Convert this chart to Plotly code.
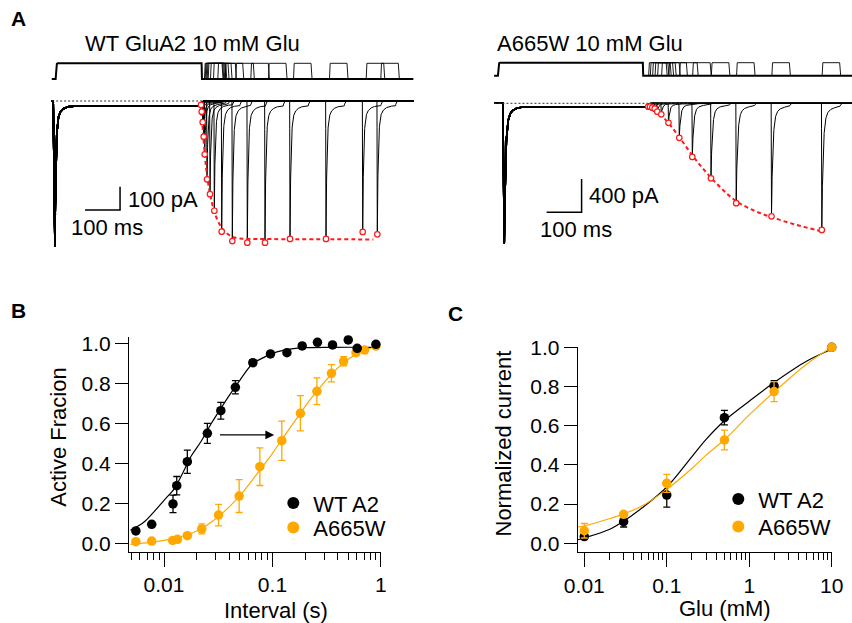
import numpy as np
import plotly.graph_objects as go

W, H = 852, 623
FONT = "Liberation Sans, Arial, Helvetica, sans-serif"
ORANGE = "#FFA800"
RED = "#FF1A1A"

# ---------------- Panel B : recovery from desensitization ----------------
b_wt_x = [0.0055, 0.0077, 0.0121, 0.0131, 0.0164, 0.0251, 0.0334, 0.0455, 0.0659,
          0.0959, 0.136, 0.188, 0.26, 0.358, 0.50, 0.605, 0.90]
b_wt_y = [0.062, 0.095, 0.197, 0.288, 0.408, 0.550, 0.663, 0.780, 0.903,
          0.947, 0.953, 0.987, 1.005, 0.992, 1.017, 0.975, 0.995]
b_wt_err = [0.01, 0.01, 0.044, 0.046, 0.058, 0.050, 0.042, 0.033, 0.015,
            0.01, 0.01, 0.01, 0.01, 0.01, 0.01, 0.01, 0.01]
b_mut_x = [0.0055, 0.0077, 0.0120, 0.0133, 0.0164, 0.0223, 0.0318, 0.0493, 0.0765,
           0.122, 0.181, 0.257, 0.350, 0.453, 0.589, 0.707, 0.90]
b_mut_y = [0.008, 0.011, 0.014, 0.020, 0.038, 0.072, 0.141, 0.236, 0.383,
           0.513, 0.650, 0.760, 0.850, 0.910, 0.953, 0.966, 0.986]
b_mut_err = [0.01, 0.01, 0.01, 0.01, 0.012, 0.025, 0.054, 0.082, 0.094,
             0.098, 0.088, 0.067, 0.043, 0.023, 0.012, 0.01, 0.01]
# fitted curves
b_wt_fit_x = [0.0049, 0.0065, 0.008, 0.010, 0.0125, 0.015, 0.018, 0.022, 0.027, 0.033,
              0.040, 0.050, 0.065, 0.085, 0.11, 0.15, 0.2, 0.35, 0.9]
b_wt_fit_y = [0.065, 0.105, 0.155, 0.215, 0.275, 0.355, 0.44, 0.51, 0.595, 0.67,
              0.74, 0.815, 0.895, 0.932, 0.957, 0.972, 0.978, 0.98, 0.98]
b_mut_fit_x = [0.0049, 0.0075, 0.010, 0.0135, 0.018, 0.024, 0.032, 0.043, 0.056, 0.075,
               0.10, 0.13, 0.17, 0.22, 0.29, 0.38, 0.50, 0.65, 0.9]
b_mut_fit_y = [-0.005, 0.005, 0.015, 0.03, 0.05, 0.085, 0.135, 0.20, 0.27, 0.36,
               0.45, 0.54, 0.63, 0.715, 0.795, 0.865, 0.92, 0.958, 0.985]
b_xtick_vals = [0.01, 0.1, 1]
b_xtick_text = ["0.01", "0.1", "1"]
b_xminor = [0.005, 0.006, 0.007, 0.008, 0.009] + [k * 0.01 for k in range(2, 10)] + [k * 0.1 for k in range(2, 10)]
b_arrow_from = 0.0318
b_arrow_to = 0.1037
b_arrow_y = 0.542

# ---------------- Panel C : glutamate dose response ----------------
c_glu = [0.01, 0.03, 0.1, 0.5, 2, 10]
c_wt_y = [0.034, 0.110, 0.246, 0.641, 0.803, 1.0]
c_wt_err = [0.012, 0.027, 0.062, 0.037, 0.027, 0.0]
c_mut_y = [0.064, 0.148, 0.306, 0.527, 0.774, 1.0]
c_mut_err = [0.037, 0.01, 0.046, 0.050, 0.051, 0.0]
c_wt_fit_x = [0.0083, 0.01, 0.02, 0.03, 0.05, 0.1, 0.2, 0.3, 0.5, 1, 2, 5, 10]
c_wt_fit_y = [0.018, 0.027, 0.07, 0.113, 0.18, 0.287, 0.44, 0.53, 0.625, 0.725, 0.82, 0.93, 0.99]
c_mut_fit_x = [0.0083, 0.01, 0.02, 0.03, 0.05, 0.1, 0.2, 0.3, 0.5, 1, 2, 5, 10]
c_mut_fit_y = [0.083, 0.088, 0.125, 0.15, 0.19, 0.275, 0.38, 0.45, 0.528, 0.655, 0.772, 0.915, 1.0]
c_xtick_vals = [0.01, 0.1, 1, 10]
c_xtick_text = ["0.01", "0.1", "1", "10"]
c_xminor = [k * 0.01 for k in range(2, 10)] + [k * 0.1 for k in range(2, 10)] + [float(k) for k in range(2, 10)]

y_ticks = [0, 0.2, 0.4, 0.6, 0.8, 1.0]
y_ticktext = ["0.0", "0.2", "0.4", "0.6", "0.8", "1.0"]

# ---------------- Panel A : example traces (ms, pA) ----------------
# WT GluA2
wt_t_end = 1021.0
wt_cond_peak_ms = -3.0
wt_cond_amp = -625.0
wt_cond_end_ms = 414.0
wt_stim_end_ms = 416.0
wt_ss = -21.0
wt_test_peak_ms = [414.3, 416.3, 419.1, 422.0, 424.9, 431.4, 440.0, 452.3, 473.4,
                   503.7, 546.6, 597.1, 668.6, 771.4, 876.3, 918.0]
wt_test_amp = [-17, -46, -91, -153, -229, -336, -400, -471, -561,
               -601, -608, -608, -592, -592, -562, -572]
wt_fit_t = [413.4, 418.0, 420.9, 425.7, 430.6, 437.1, 444.9, 454.3, 468.6, 482.9,
            501.9, 525.7, 573.4, 906.6]
wt_fit_pA = [-17, -96, -153, -239, -310, -375, -432, -485, -532, -561,
             -582, -590, -592, -594]
wt_stim_delay_ms = 10.0
wt_scale_t0, wt_scale_pA0 = 83.0, -468.0
wt_scale_ms, wt_scale_pA = 100.0, 100.0

# A665W
mut_t_end = 1011.0
mut_cond_peak_ms = 17.0
mut_cond_amp = -1680.0
mut_cond_end_ms = 425.0
mut_stim_end_ms = 413.0
mut_ss = -41.0
mut_test_peak_ms = [428.6, 433.4, 440.0, 446.9, 454.3, 465.7, 486.3, 517.1, 554.3,
                    607.7, 679.7, 780.6, 924.3]
mut_test_amp = [-41, -41, -53, -65, -101, -132, -234, -414, -643,
                -900, -1199, -1356, -1520]
mut_fit_t = [427.7, 447.7, 467.7, 490.6, 519.1, 553.4, 590.6, 633.4, 679.1,
             733.4, 779.1, 847.7, 924.9]
mut_fit_pA = [-38, -80, -152, -260, -416, -620, -812, -1004, -1172,
              -1292, -1364, -1454, -1538]
mut_stim_delay_ms = 1.0
mut_scale_t0, mut_scale_pA0 = 138.0, -1308.0
mut_scale_ms, mut_scale_pA = 100.0, 400.0

T_START = -12.0
TEST_DUR = 52.0
STIM_DUR = 50.0


def make_time(t0, t1, events):
    parts = [np.arange(t0, t1, 1.0), np.array([t1])]
    for e in events:
        parts.append(np.arange(e - 3, e + 25, 0.2))
        parts.append(np.arange(e + TEST_DUR - 2, e + TEST_DUR + 10, 0.5))
    t = np.unique(np.concatenate(parts))
    return t[(t >= t0) & (t <= t1)]


def desens(dt, amp, ss, tau_f, tau_s, frac):
    return ss + (amp - ss) * (frac * np.exp(-dt / tau_f) + (1 - frac) * np.exp(-dt / tau_s))


def response(t, t_peak, amp, ss, dur, rise, tau_f, tau_s, frac, tau_off=2.0):
    i = np.zeros_like(t)
    r = (t >= t_peak - rise) & (t < t_peak)
    i[r] = amp * (t[r] - (t_peak - rise)) / rise
    d = (t >= t_peak) & (t < t_peak + dur)
    i[d] = desens(t[d] - t_peak, amp, ss, tau_f, tau_s, frac)
    a = t >= t_peak + dur
    end_val = desens(dur, amp, ss, tau_f, tau_s, frac)
    i[a] = end_val * np.exp(-(t[a] - t_peak - dur) / tau_off)
    return i


fig = go.Figure()


def add_panel_a(xa, ya, ys, peaks, amps, cond_peak, cond_amp, cond_end, ss, t_end,
                fit_t, fit_pA, stim_delay, stim_end, tau_f, tau_s, frac, rise,
                dotted_end, scale_t0, scale_pA0, scale_ms, scale_pA):
    # current sweeps
    for tp, A in zip(peaks, amps):
        t = make_time(T_START, t_end, [cond_peak, tp])
        cond = response(t, cond_peak, cond_amp, ss, cond_end - cond_peak, rise, tau_f, tau_s, frac)
        test = response(t, tp, A, ss * A / cond_amp, TEST_DUR, 1.0, tau_f, tau_s, frac)
        cur = np.minimum(cond, test)
        m = t <= cond_end + 1
        fig.add_trace(go.Scatter(x=np.round(t[m], 2), y=np.round(cur[m], 1), mode="lines",
                                 line=dict(color="black", width=1.6), xaxis=xa, yaxis=ya,
                                 showlegend=False, hoverinfo="skip"))
        m2 = t >= cond_end
        fig.add_trace(go.Scatter(x=np.round(t[m2], 2), y=np.round(cur[m2], 1), mode="lines",
                                 line=dict(color="black", width=1.0), xaxis=xa, yaxis=ya,
                                 showlegend=False, hoverinfo="skip"))
    # dotted baseline
    fig.add_trace(go.Scatter(x=[T_START + 1, dotted_end], y=[0, 0], mode="lines",
                             line=dict(color="#333", width=1, dash="2px,2px"),
                             xaxis=xa, yaxis=ya, showlegend=False, hoverinfo="skip"))
    # stimulus: conditioning pulse + baseline
    st_x = [T_START, -1, 0, 1, 2.5, 5, stim_end, stim_end + 1, t_end]
    st_y = [0, 0, 0.3, 0.8, 0.97, 1, 1, 0, 0]
    fig.add_trace(go.Scatter(x=st_x, y=st_y, mode="lines", line=dict(color="black", width=2),
                             xaxis=xa, yaxis=ys, showlegend=False, hoverinfo="skip"))
    px_, py_ = [], []
    for tp in peaks:
        on = tp + stim_delay
        px_ += [on, on + 2, on + STIM_DUR, on + STIM_DUR + 3, None]
        py_ += [0, 1, 1, 0, None]
    fig.add_trace(go.Scatter(x=px_, y=py_, mode="lines", line=dict(color="black", width=0.9),
                             xaxis=xa, yaxis=ys, showlegend=False, hoverinfo="skip"))
    # fit through peaks
    fig.add_trace(go.Scatter(x=fit_t, y=fit_pA, mode="lines",
                             line=dict(color=RED, width=2, dash="4px,3px", shape="spline"),
                             xaxis=xa, yaxis=ya, showlegend=False, hoverinfo="skip"))
    fig.add_trace(go.Scatter(x=peaks, y=amps, mode="markers",
                             marker=dict(size=5.5, color="white", line=dict(color=RED, width=1.2)),
                             xaxis=xa, yaxis=ya, showlegend=False, hoverinfo="skip"))
    # scale bars
    fig.add_trace(go.Scatter(x=[scale_t0, scale_t0 + scale_ms, scale_t0 + scale_ms],
                             y=[scale_pA0, scale_pA0, scale_pA0 + scale_pA], mode="lines",
                             line=dict(color="black", width=1.5), xaxis=xa, yaxis=ya,
                             showlegend=False, hoverinfo="skip"))


add_panel_a("x3", "y3", "y5", wt_test_peak_ms, wt_test_amp, wt_cond_peak_ms, wt_cond_amp,
            wt_cond_end_ms, wt_ss, wt_t_end, wt_fit_t, wt_fit_pA, wt_stim_delay_ms,
            wt_stim_end_ms, 2.5, 12.0, 0.85, 5.0, 420.0,
            wt_scale_t0, wt_scale_pA0, wt_scale_ms, wt_scale_pA)
add_panel_a("x4", "y4", "y6", mut_test_peak_ms, mut_test_amp, mut_cond_peak_ms, mut_cond_amp,
            mut_cond_end_ms, mut_ss, mut_t_end, mut_fit_t, mut_fit_pA, mut_stim_delay_ms,
            mut_stim_end_ms, 3.5, 14.0, 0.85, 4.0, 548.0,
            mut_scale_t0, mut_scale_pA0, mut_scale_ms, mut_scale_pA)

# ---------------- Panel B traces ----------------
fig.add_trace(go.Scatter(x=b_mut_fit_x, y=b_mut_fit_y, mode="lines",
                         line=dict(color=ORANGE, width=1.2, shape="spline"),
                         xaxis="x", yaxis="y", showlegend=False, hoverinfo="skip"))
fig.add_trace(go.Scatter(x=b_wt_fit_x, y=b_wt_fit_y, mode="lines",
                         line=dict(color="black", width=1.2, shape="spline"),
                         xaxis="x", yaxis="y", showlegend=False, hoverinfo="skip"))
fig.add_trace(go.Scatter(x=b_mut_x, y=b_mut_y, mode="markers", name="A665W",
                         marker=dict(size=9.5, color=ORANGE),
                         error_y=dict(type="data", array=b_mut_err, color=ORANGE, thickness=1.3, width=3.5),
                         xaxis="x", yaxis="y", legend="legend3", cliponaxis=False))
fig.add_trace(go.Scatter(x=b_wt_x, y=b_wt_y, mode="markers", name="WT A2",
                         marker=dict(size=9.5, color="black"),
                         error_y=dict(type="data", array=b_wt_err, color="black", thickness=1.3, width=3.5),
                         xaxis="x", yaxis="y", legend="legend", cliponaxis=False))

# ---------------- Panel C traces ----------------
fig.add_trace(go.Scatter(x=c_wt_fit_x, y=c_wt_fit_y, mode="lines",
                         line=dict(color="black", width=1.2, shape="spline"),
                         xaxis="x2", yaxis="y2", showlegend=False, hoverinfo="skip"))
fig.add_trace(go.Scatter(x=c_mut_fit_x, y=c_mut_fit_y, mode="lines",
                         line=dict(color=ORANGE, width=1.2, shape="spline"),
                         xaxis="x2", yaxis="y2", showlegend=False, hoverinfo="skip"))
fig.add_trace(go.Scatter(x=c_glu, y=c_wt_y, mode="markers", name="WT A2",
                         marker=dict(size=9.5, color="black"),
                         error_y=dict(type="data", array=c_wt_err, color="black", thickness=1.3, width=3.5),
                         xaxis="x2", yaxis="y2", legend="legend2", cliponaxis=False))
fig.add_trace(go.Scatter(x=c_glu, y=c_mut_y, mode="markers", name="A665W",
                         marker=dict(size=9.5, color=ORANGE),
                         error_y=dict(type="data", array=c_mut_err, color=ORANGE, thickness=1.3, width=3.5),
                         xaxis="x2", yaxis="y2", legend="legend4", cliponaxis=False))


def px(p):
    return p / W


def py(p):
    return 1 - p / H


axis_common = dict(showline=True, linecolor="black", linewidth=1, ticks="outside",
                   tickcolor="black", tickwidth=1, showgrid=False, zeroline=False,
                   automargin=False,
                   tickfont=dict(size=21, color="black", family=FONT), fixedrange=True)

hidden = dict(visible=False, showgrid=False, zeroline=False, fixedrange=True, automargin=False)


def leg(xm, ym):
    # legend entry whose symbol is centred at pixel (xm, ym)
    return dict(x=px(xm - 20), y=py(ym), xanchor="left", yanchor="middle", bgcolor="rgba(0,0,0,0)",
                font=dict(size=22, family=FONT, color="black"), itemsizing="constant")


fig.update_layout(
    width=W, height=H, margin=dict(l=0, r=0, t=0, b=0, pad=0, autoexpand=False),
    paper_bgcolor="white", plot_bgcolor="white",
    font=dict(family=FONT, size=22, color="black"),
    xaxis=dict(type="log", domain=[px(129), px(381)], range=[-2.323, 0.001], anchor="y",
               tickmode="array", tickvals=b_xtick_vals, ticktext=b_xtick_text, ticklen=14,
               minor=dict(tickmode="array", tickvals=b_xminor, ticks="outside", ticklen=7,
                          tickcolor="black", tickwidth=1, showgrid=False),
               **axis_common),
    yaxis=dict(domain=[py(552), py(336.7)], range=[-0.0435, 1.033], anchor="x",
               tickmode="array", tickvals=y_ticks, ticktext=y_ticktext, ticklen=13,
               **axis_common),
    xaxis2=dict(type="log", domain=[px(577.7), px(831.7)], range=[-2.08, 1.0], anchor="y2",
                tickmode="array", tickvals=c_xtick_vals, ticktext=c_xtick_text, ticklen=14,
                minor=dict(tickmode="array", tickvals=c_xminor, ticks="outside", ticklen=7,
                           tickcolor="black", tickwidth=1, showgrid=False),
                **axis_common),
    yaxis2=dict(domain=[py(552.3), py(347.3)], range=[-0.046, 1.0], anchor="x2",
                tickmode="array", tickvals=y_ticks, ticktext=y_ticktext, ticklen=13,
                **axis_common),
    xaxis3=dict(domain=[px(51), px(418)], range=[(51 - 56) / 0.35, (418 - 56) / 0.35], anchor="y3", **hidden),
    yaxis3=dict(domain=[py(250), py(95)], range=[-(250 - 101) / 0.233, (101 - 95) / 0.233], anchor="x3", **hidden),
    yaxis5=dict(domain=[py(84), py(58)], range=[-(84 - 79) / 15.7, 1 + (63.3 - 58) / 15.7], anchor="x3", **hidden),
    xaxis4=dict(domain=[px(494), px(852)], range=[(494 - 498.3) / 0.35, (852 - 498.3) / 0.35], anchor="y4", **hidden),
    yaxis4=dict(domain=[py(250), py(98)], range=[-(250 - 103.3) * 12, (103.3 - 98) * 12], anchor="x4", **hidden),
    yaxis6=dict(domain=[py(82), py(55)], range=[-(82 - 75.7) / 13, 1 + (62.7 - 55) / 13], anchor="x4", **hidden),
    legend=leg(293.3, 503.3),
    legend3=leg(293.3, 527.7),
    legend2=leg(738.3, 499.3),
    legend4=leg(738.3, 526.7),
    showlegend=True,
)

ann = []


def text(x, y, s, size=22, xanchor="left", bold=False, angle=0):
    ann.append(dict(x=px(x), y=py(y), xref="paper", yref="paper", text=("<b>%s</b>" % s) if bold else s,
                    showarrow=False, xanchor=xanchor, yanchor="middle", textangle=angle,
                    font=dict(size=size, family=FONT, color="black")))


text(9, 18, "A", size=21, bold=True)
text(9, 311, "B", size=21, bold=True)
text(446, 313, "C", size=21, bold=True)
text(82.7, 43.5, "WT GluA2 10 mM Glu")
text(495, 43.5, "A665W 10 mM Glu")
text(126, 199.5, "100 pA")
text(107.5, 227, "100 ms", xanchor="center")
text(586.7, 195.5, "400 pA")
text(576, 230, "100 ms", xanchor="center")
text(57.7, 437, "Active Fracion", angle=-90, xanchor="center")
text(276, 610.5, "Interval (s)", xanchor="center")
text(502.5, 444, "Normalized current", angle=-90, xanchor="center")
text(725, 608.5, "Glu (mM)", xanchor="center")

ann.append(dict(x=np.log10(b_arrow_to), y=b_arrow_y, ax=np.log10(b_arrow_from), ay=b_arrow_y,
                xref="x", yref="y", axref="x", ayref="y", text="", showarrow=True,
                arrowhead=2, arrowsize=1.6, arrowwidth=1.1, arrowcolor="black", standoff=0))
fig.update_layout(annotations=ann)

fig.write_html("out.html", config={"displayModeBar": False},
               post_script="document.body.style.margin='0';document.body.style.overflow='hidden';")
